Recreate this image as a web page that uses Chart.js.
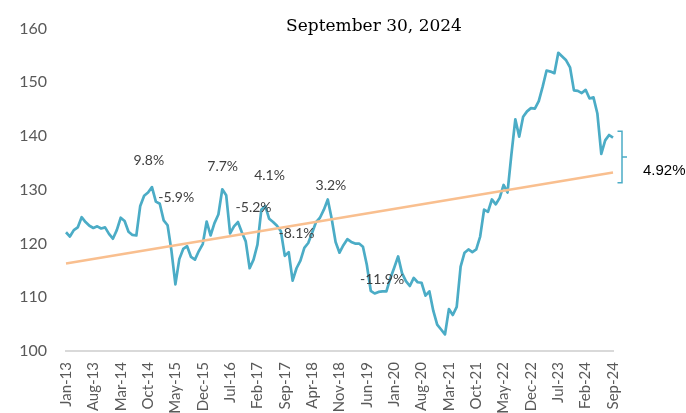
<!DOCTYPE html>
<html>
<head>
<meta charset="utf-8">
<script src="https://cdn.jsdelivr.net/npm/chart.js@4/dist/chart.umd.min.js"></script>
<style>
  html, body { margin: 0; padding: 0; background: #fff; }
  #wrap { width: 686px; height: 413px; }
</style>
</head>
<body>
<div id="wrap"><canvas id="chart" width="686" height="413"></canvas></div>
<script>
// Monthly index, Jan-13 .. Sep-24
const monthNames = ['Jan', 'Feb', 'Mar', 'Apr', 'May', 'Jun', 'Jul', 'Aug', 'Sep', 'Oct', 'Nov', 'Dec'];
const firstYear = 13, lastYear = 24, lastMonth = 9;

const indexValues = [
  122.1, 121.3, 122.5, 123.0, 124.9, 124.0, 123.3, 122.9, 123.2, 122.8,
  123.0, 121.8, 120.9, 122.5, 124.8, 124.2, 122.2, 121.6, 121.5, 127.0,
  128.9, 129.5, 130.5, 127.8, 127.4, 124.3, 123.4, 118.6, 112.4, 117.1,
  119.0, 119.5, 117.5, 117.0, 118.6, 119.9, 124.1, 121.5, 123.8, 125.4,
  130.1, 129.0, 121.9, 123.2, 124.0, 122.1, 120.4, 115.4, 117.0, 119.8,
  126.3, 127.0, 124.6, 124.0, 123.3, 122.3, 117.7, 118.4, 113.1, 115.4,
  116.8, 119.2, 120.1, 122.0, 124.0, 124.8, 126.3, 128.2, 124.6, 120.3,
  118.3, 119.7, 120.8, 120.3, 120.0, 120.0, 119.4, 116.0, 111.2, 110.7,
  111.0, 111.1, 111.1, 113.5, 115.5, 117.6, 114.5, 113.0, 112.1, 113.6,
  112.8, 112.7, 110.3, 111.1, 107.5, 104.9, 104.0, 103.1, 107.8, 106.7,
  108.2, 115.7, 118.3, 118.9, 118.4, 118.9, 121.3, 126.3, 125.9, 128.2,
  127.3, 128.5, 130.9, 129.5, 136.6, 143.1, 139.9, 143.6, 144.6, 145.2,
  145.1, 146.5, 149.2, 152.2, 152.0, 151.7, 155.5, 154.8, 154.1, 152.8,
  148.5, 148.4, 148.0, 148.6, 147.0, 147.2, 144.2, 136.7, 139.2, 140.2,
  139.7
];

// Trend line end points
const trendFirst = 116.3;
const trendLast = 133.2;

// Swing labels: text, month index, level
const swingText  = ['9.8%', '-5.9%', '7.7%', '-5.2%', '4.1%', '-8.1%', '3.2%', '-11.9%'];
const swingMonth = [21.2, 28.2, 40.1, 48.0, 52.1, 59.0, 67.8, 80.9];
const swingLevel = [135.5, 128.5, 134.4, 126.8, 132.6, 121.9, 130.8, 113.4];

// Gap bracket on the right
const gapText = '4.92%';
const gapTop = 140.9, gapBottom = 131.3, gapMid = 136.1, gapTextLevel = 133.6;

const titleText = 'September 30, 2024';

const labels = [];
for (let y = firstYear; y <= lastYear; y++) {
  for (let m = 0; m < 12; m++) {
    if (y === lastYear && m >= lastMonth) break;
    labels.push(monthNames[m] + '-' + y);
  }
}

const trendData = labels.map(() => null);
trendData[0] = trendFirst;
trendData[trendData.length - 1] = trendLast;

const blue = '#4BACC6';
const orange = '#F9BF8F';

const notes = {
  id: 'notes',
  afterDatasetsDraw(chart) {
    const ctx = chart.ctx;
    const xs = chart.scales.x, ys = chart.scales.y;
    ctx.save();
    ctx.font = '14px Lato';
    ctx.fillStyle = '#404040';
    ctx.textAlign = 'center';
    ctx.textBaseline = 'middle';
    swingText.forEach((t, i) => {
      ctx.fillText(t, xs.getPixelForValue(swingMonth[i]), ys.getPixelForValue(swingLevel[i]));
    });

    // bracket
    const bx = xs.getPixelForValue(labels.length - 1) + 9;
    const yt = ys.getPixelForValue(gapTop);
    const yb = ys.getPixelForValue(gapBottom);
    const ym = ys.getPixelForValue(gapMid);
    ctx.strokeStyle = blue;
    ctx.lineWidth = 1.5;
    ctx.beginPath();
    ctx.moveTo(bx - 4.5, yt);
    ctx.lineTo(bx, yt);
    ctx.lineTo(bx, yb);
    ctx.lineTo(bx - 4.5, yb);
    ctx.moveTo(bx, ym);
    ctx.lineTo(bx + 5, ym);
    ctx.stroke();

    ctx.font = '15px "Liberation Sans"';
    ctx.fillStyle = '#000';
    ctx.textAlign = 'left';
    ctx.fillText(gapText, bx + 21, ys.getPixelForValue(gapTextLevel));

    ctx.font = '17px "DejaVu Serif"';
    ctx.textAlign = 'center';
    ctx.fillText(titleText, 374, 27);
    ctx.restore();
  }
};

new Chart(document.getElementById('chart'), {
  type: 'line',
  data: {
    labels: labels,
    datasets: [
      {
        label: 'Trend',
        data: trendData,
        spanGaps: true,
        borderColor: orange,
        borderWidth: 2.5,
        pointRadius: 0,
        tension: 0,
        order: 0
      },
      {
        label: 'Index',
        data: indexValues,
        borderColor: blue,
        borderWidth: 2.7,
        pointRadius: 0,
        tension: 0,
        borderJoinStyle: 'round',
        order: 1
      }
    ]
  },
  options: {
    responsive: false,
    animation: false,
    layout: { padding: { left: 0, right: 73, top: 16, bottom: 0 } },
    plugins: {
      legend: { display: false },
      tooltip: { enabled: false }
    },
    scales: {
      x: {
        grid: { display: false, drawTicks: false },
        border: { display: true, color: '#D9D9D9', width: 2 },
        ticks: {
          autoSkip: false,
          maxRotation: 90,
          minRotation: 90,
          padding: 11,
          color: '#595959',
          font: { family: 'Lato', size: 15 },
          callback: function(value, index) {
            return index % 7 === 0 ? labels[index] : '';
          }
        },
        afterFit: s => { s.height = 62; }
      },
      y: {
        min: 100,
        max: 160,
        grid: { display: false, drawTicks: false },
        border: { display: false },
        ticks: {
          stepSize: 10,
          padding: 19,
          color: '#595959',
          font: { family: 'Lato', size: 16 }
        },
        afterFit: s => { s.width = 66; }
      }
    }
  },
  plugins: [notes]
});
</script>
</body>
</html>
